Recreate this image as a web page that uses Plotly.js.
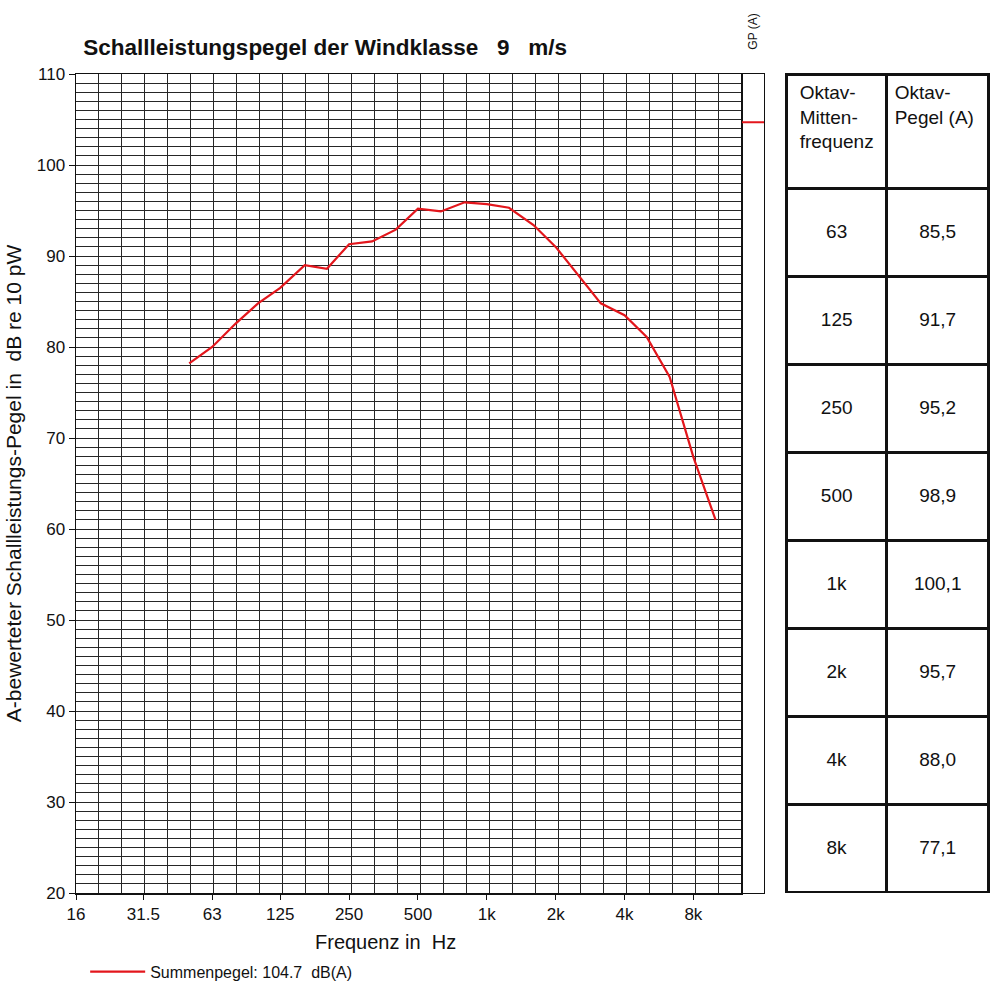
<!DOCTYPE html>
<html>
<head>
<meta charset="utf-8">
<script src="https://cdn.plot.ly/plotly-3.0.1.min.js"></script>
<style>html,body{margin:0;padding:0;background:#fff;}#chart{width:993px;height:989px;}</style>
</head>
<body>
<div id="chart"></div>
<script>
// Third-octave spectrum (Hz, dB(A))
const thirdOctFreq = [50,63,80,100,125,160,200,250,315,400,500,630,800,1000,1250,1600,2000,2500,3150,4000,5000,6300,8000,10000];
const thirdOctLevel = [78.2,80.0,82.6,84.8,86.5,89.0,88.6,91.3,91.6,92.9,95.2,94.9,95.9,95.7,95.3,93.4,91.0,87.9,84.8,83.5,81.1,76.7,67.9,61.0];
// Total level
const sumLevel = 104.7;
// x tick labels
const xTickVals = [16,31.5,63,125,250,500,1000,2000,4000,8000];
const xTickText = ['16','31.5','63','125','250','500','1k','2k','4k','8k'];
// Octave table
const octFreqLabels = ['63','125','250','500','1k','2k','4k','8k'];
const octLevelLabels = ['85,5','91,7','95,2','98,9','100,1','95,7','88,0','77,1'];

const FONT = 'Arial, "Liberation Sans", sans-serif';
const fLo = Math.log10(16);
const third = Math.log10(2)/3;
const fHi = fLo + 29*third;
// third-octave grid positions (axis decoration)
const gridVals = [];
for (let k = 0; k <= 29; k++) gridVals.push(16*Math.pow(2, k/3));
const GRID = '#262626';

const traces = [
  {type:'scatter', mode:'lines', x:[], y:[], xaxis:'x3', yaxis:'y', showlegend:false, hoverinfo:'skip'},
  {type:'scatter', mode:'lines', x:thirdOctFreq, y:thirdOctLevel, xaxis:'x', yaxis:'y',
   line:{color:'#e3161c', width:2.2}, showlegend:false, hoverinfo:'skip'},
  {type:'scatter', mode:'lines', x:[0,1], y:[sumLevel,sumLevel], xaxis:'x2', yaxis:'y2',
   line:{color:'#e3161c', width:2.2}, name:'Summenpegel: ' + sumLevel.toFixed(1) + '&nbsp; dB(A)', showlegend:true, hoverinfo:'skip'},
  {type:'table', domain:{x:[0.775,0.996], y:[0,1]}, columnwidth:[100,102],
   header:{values:['Oktav-<br>Mitten-<br>frequenz','Oktav-<br>Pegel (A)'], height:114,
     align:['center','left'], line:{color:'#111', width:3}, fill:{color:'#fff'},
     font:{family:FONT, size:19, color:'#111'}},
   cells:{values:[octFreqLabels.map(s=>'\u00a0<br>'+s), octLevelLabels.map(s=>'\u00a0<br>'+s)], height:88,
     align:['center','center'], line:{color:'#111', width:3}, fill:{color:'#fff'},
     font:{family:FONT, size:19, color:'#111'}}}
];

const layout = {
  width:993, height:989,
  margin:{l:76, r:0, t:74, b:96},
  paper_bgcolor:'#fff', plot_bgcolor:'#fff',
  font:{family:FONT, color:'#111'},
  title:{text:'<b>Schallleistungspegel der Windklasse&nbsp;&nbsp; 9&nbsp;&nbsp; m/s</b>', font:{family:FONT, size:22.5, color:'#111'},
    xref:'paper', x:0.008, xanchor:'left', yref:'container', y:1-47/989, yanchor:'middle'},
  xaxis:{type:'log', domain:[0,0.7259], range:[fLo,fHi], tickmode:'array', tickvals:xTickVals, ticktext:xTickText,
    ticks:'outside', ticklen:5, tickcolor:'#111', showgrid:false, showline:true, mirror:true, linecolor:'#111', linewidth:1.5,
    tickfont:{family:FONT, size:17, color:'#111'}, zeroline:false, fixedrange:true},
  xaxis3:{type:'log', overlaying:'x', range:[fLo,fHi], tickmode:'array', tickvals:gridVals,
    showticklabels:false, ticks:'', showgrid:true, gridcolor:GRID, gridwidth:1, showline:false, zeroline:false, fixedrange:true},
  yaxis:{range:[20,110], dtick:10, tick0:20, ticks:'outside', ticklen:6, tickcolor:'#111',
    showgrid:true, gridcolor:GRID, gridwidth:1,
    minor:{dtick:1, showgrid:true, gridcolor:GRID, gridwidth:1},
    showline:true, mirror:true, linecolor:'#111', linewidth:1.5, zeroline:false,
    tickfont:{family:FONT, size:17, color:'#111'},
    title:{text:'A-bewerteter Schallleistungs-Pegel in&nbsp; dB re 10 pW', font:{family:FONT, size:21, color:'#111'}, standoff:9},
    fixedrange:true},
  xaxis2:{domain:[0.7263,0.7505], range:[0,1], showgrid:false, showticklabels:false, ticks:'', zeroline:false,
    showline:true, mirror:true, linecolor:'#111', linewidth:1.2, anchor:'y2', fixedrange:true},
  yaxis2:{range:[20,110], anchor:'x2', showgrid:false, showticklabels:false, ticks:'', zeroline:false,
    showline:true, mirror:true, linecolor:'#111', linewidth:1.2, fixedrange:true},
  showlegend:true,
  legend:{x:0.01, xanchor:'left', y:-(971.7-893)/819, yanchor:'middle', bgcolor:'rgba(0,0,0,0)', itemwidth:55,
    font:{family:FONT, size:16, color:'#111'}},
  annotations:[
    {text:'Frequenz in&nbsp; Hz', xref:'paper', yref:'paper', x:(385-76)/917, y:-(942-893)/819, xanchor:'center', yanchor:'middle',
     showarrow:false, font:{family:FONT, size:20, color:'#111'}},
    {text:'GP (A)', xref:'paper', yref:'paper', x:(752.7-76)/917, y:1+(74-32)/819, xanchor:'center', yanchor:'middle',
     textangle:-90, showarrow:false, font:{family:FONT, size:12, color:'#111'}}
  ]
};

Plotly.newPlot('chart', traces, layout, {displayModeBar:false, staticPlot:true});
</script>
</body>
</html>
